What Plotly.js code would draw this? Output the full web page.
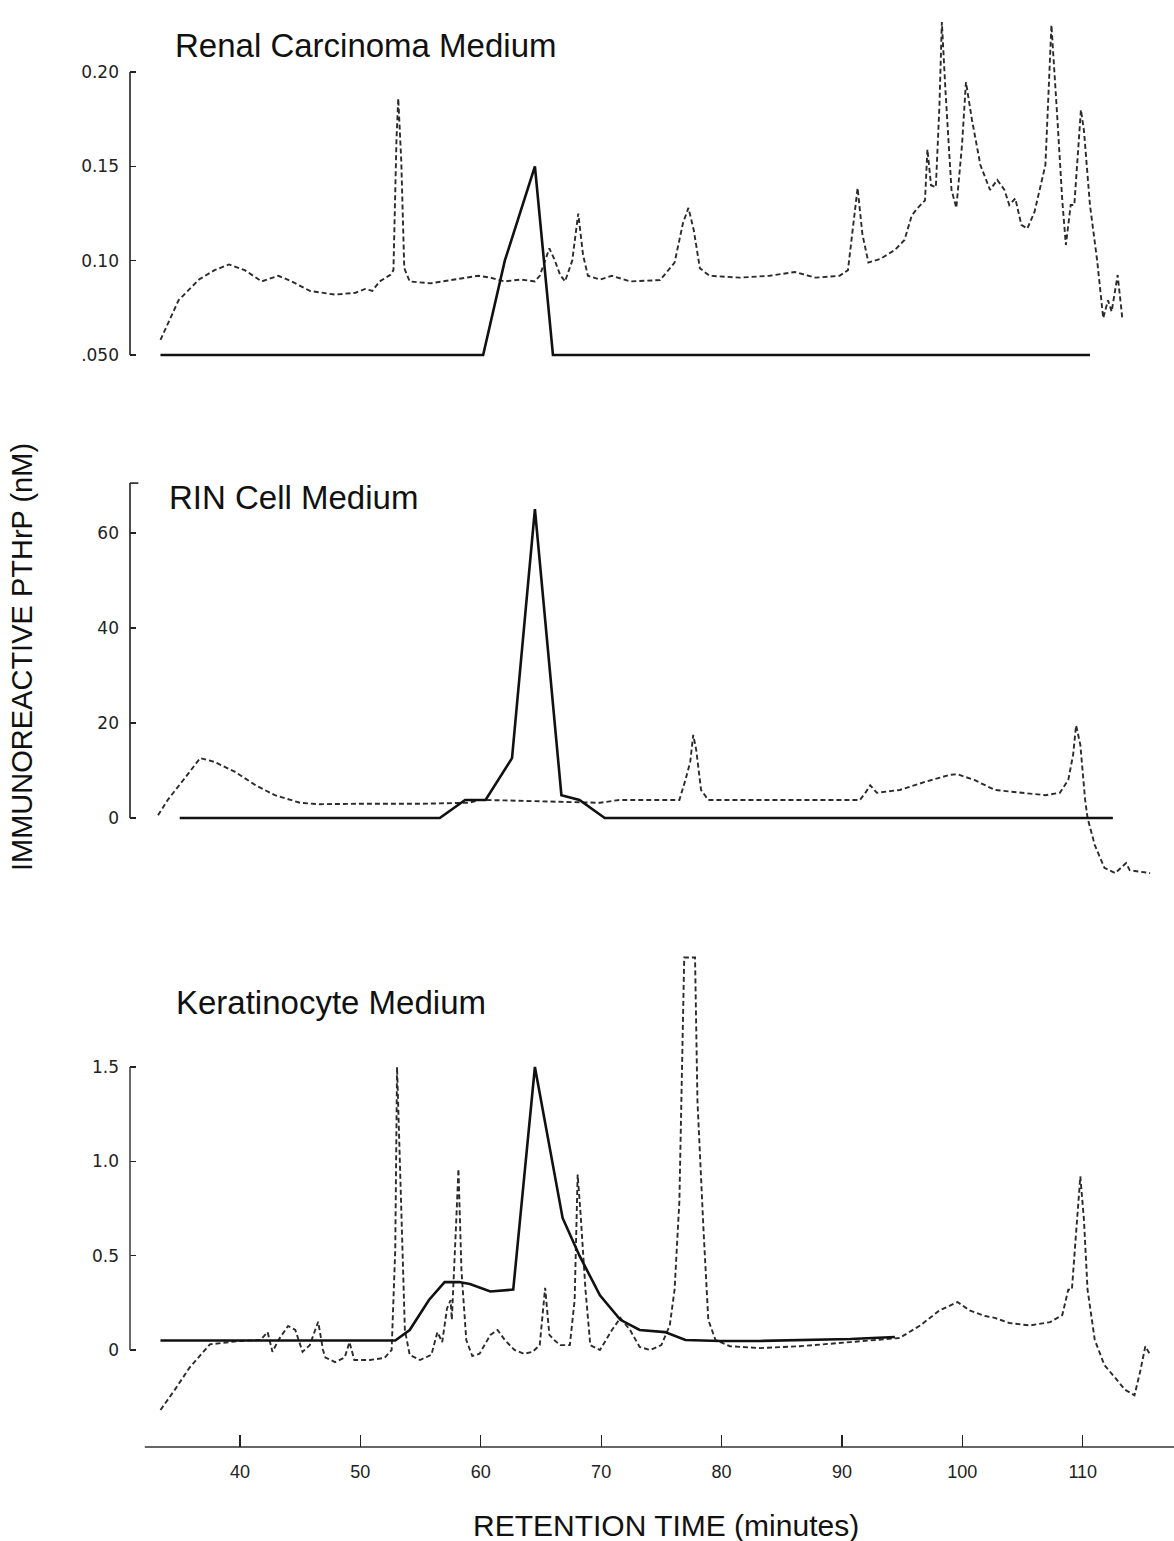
<!DOCTYPE html>
<html>
<head>
<meta charset="utf-8">
<script src="https://cdn.plot.ly/plotly-3.0.1.min.js"></script>
<style>html,body{margin:0;padding:0;background:#fff;}#chart{width:1174px;height:1541px;}</style>
</head>
<body>
<div id="chart"></div>
<script>
// ---- Renal Carcinoma Medium ----
const renalDashX = [33.4,34.9,36.6,37.9,39.1,40.4,41.8,43.2,44.3,45.8,
  47.9,49.6,50.4,51.0,51.6,52.5,52.75,53.0,53.15,53.4,
  53.65,54.1,55.8,57.4,58.7,59.8,60.8,62.0,63.3,64.5,
  64.9,65.3,65.7,66.1,66.6,67.0,67.6,68.1,68.5,68.9,
  69.9,70.9,72.4,74.9,76.1,76.8,77.25,77.7,78.2,79.0,
  81.5,84.0,86.1,87.8,89.8,90.5,90.9,91.3,91.7,92.2,
  93.2,94.4,95.2,95.8,96.3,96.9,97.1,97.4,97.8,98.1,
  98.3,98.6,99.1,99.5,99.97,100.3,100.8,101.5,102.3,102.9,
  103.5,103.9,104.4,104.9,105.4,106.0,106.9,107.4,107.9,108.3,
  108.6,109.0,109.3,109.85,110.1,110.6,111.2,111.7,112.1,112.4,
  112.9,113.3];
const renalDashY = [0.058,0.079,0.090,0.095,0.098,0.095,0.089,0.092,0.089,0.084,
  0.082,0.083,0.085,0.084,0.089,0.0925,0.095,0.164,0.186,0.153,
  0.096,0.089,0.088,0.0897,0.0908,0.092,0.091,0.089,0.090,0.089,
  0.092,0.099,0.1065,0.101,0.0924,0.089,0.100,0.125,0.103,0.092,
  0.090,0.092,0.089,0.0897,0.099,0.120,0.128,0.116,0.096,0.092,
  0.091,0.092,0.094,0.091,0.092,0.095,0.116,0.1385,0.114,0.099,
  0.101,0.1057,0.111,0.124,0.128,0.132,0.159,0.140,0.139,0.1825,
  0.2265,0.19,0.1375,0.128,0.161,0.1947,0.1746,0.1507,0.1375,0.1428,
  0.1375,0.1295,0.133,0.119,0.117,0.126,0.1507,0.2249,0.1746,0.132,
  0.1083,0.1295,0.1295,0.18,0.169,0.1295,0.100,0.0696,0.079,0.073,
  0.0924,0.0686];
const renalSolidX = [33.4,60.2,62.0,64.5,66.0,110.6];
const renalSolidY = [0.05,0.05,0.10,0.15,0.05,0.05];

// ---- RIN Cell Medium ----
const rinDashX = [33.2,34.0,35.3,36.4,36.7,37.9,39.6,41.3,42.9,45.0,
  46.6,50,55,59.0,59.9,62,65,67,69.9,71.5,
  76.5,77.0,77.4,77.65,77.9,78.3,78.9,82.4,91.5,92.0,
  92.35,92.9,94.8,96.9,99.0,99.6,101.0,102.7,104.8,106.9,
  108.1,108.8,109.2,109.45,109.8,110.2,110.4,111.0,111.8,112.7,
  113.3,113.6,113.9,115.6];
const rinDashY = [0.6,3.8,8,11.8,12.6,11.8,9.7,6.9,4.8,3.2,
  2.9,3,3,3.2,3.8,3.7,3.5,3.5,3.2,3.8,
  3.8,8,11.8,17.5,14.3,5.9,3.8,3.8,3.8,5.5,
  6.9,5.3,5.9,7.6,9.1,9.2,8,5.9,5.3,4.8,
  5.3,8,13.3,19.5,15.4,3.8,0,-5.7,-10.5,-11.6,
  -10.2,-9.5,-11,-11.6];
const rinSolidX = [35,56.6,58.7,60.4,62.6,64.5,66.7,68.2,70.3,112.5];
const rinSolidY = [0,0,3.8,3.8,12.6,65,4.8,3.8,0,0];

// ---- Keratinocyte Medium ----
const kerDashX = [33.4,34.6,35.8,37.1,37.5,40,41.7,42.3,42.7,43.2,
  44.0,44.6,45.2,45.8,46.5,46.9,47.1,47.9,48.7,49.1,
  49.5,50.8,52.0,52.6,52.9,53.05,53.4,53.7,54.1,54.96,
  55.9,56.4,56.8,57.2,57.5,57.6,57.95,58.15,58.4,58.8,
  59.3,59.9,60.8,61.4,62.0,62.8,63.6,64.3,64.9,65.35,
  65.7,66.1,66.6,67.4,67.8,68.05,68.3,68.7,69.1,69.9,
  70.9,71.6,72.4,73.2,74.1,75.0,75.7,76.1,76.5,76.9,
  77.8,78.0,78.5,78.9,79.5,80.7,83.2,86.5,90.7,93.2,
  94.8,96.5,98.1,99.6,100.6,101.9,102.7,103.9,105.6,107.3,
  108.3,108.8,109.1,109.4,109.8,110.1,110.4,111.0,111.8,112.7,
  113.5,114.3,114.8,115.2,115.6];
const kerDashY = [-0.318,-0.21,-0.095,0,0.03,0.048,0.053,0.095,-0.01,0.053,
  0.127,0.106,-0.01,0.026,0.15,0.0,-0.04,-0.064,-0.04,0.042,
  -0.053,-0.053,-0.042,0,0.53,1.5,0.79,0.106,-0.026,-0.053,
  -0.026,0.095,0.042,0.22,0.265,0.16,0.66,0.96,0.42,0.053,
  -0.032,-0.02,0.08,0.106,0.053,0,-0.02,-0.01,0.026,0.33,
  0.08,0.053,0.026,0.026,0.265,0.93,0.715,0.32,0.026,0,
  0.106,0.17,0.106,0.016,0,0.026,0.13,0.32,0.79,2.08,
  2.08,1.32,0.64,0.16,0.053,0.02,0.01,0.02,0.042,0.053,
  0.064,0.13,0.21,0.254,0.21,0.18,0.17,0.143,0.13,0.148,
  0.185,0.32,0.32,0.58,0.92,0.69,0.32,0.053,-0.08,-0.148,
  -0.21,-0.24,-0.106,0.02,-0.026];
const kerSolidX = [33.4,52.9,54.1,55.7,57.0,58.2,59.1,60.8,62.7,64.5,66.8,68.2,69.9,71.6,73.2,74.5,75.3,77.0,79.9,83.2,86.5,90.7,94.4];
const kerSolidY = [0.05,0.05,0.106,0.265,0.36,0.36,0.35,0.31,0.32,1.5,0.70,0.50,0.29,0.16,0.106,0.10,0.095,0.053,0.048,0.048,0.053,0.058,0.069];

// ---- axes text ----
const xTicks = [40,50,60,70,80,90,100,110];
const renalTicks = [0.05,0.10,0.15,0.20];
const renalTickText = ['.050','0.10','0.15','0.20'];
const rinTicks = [0,20,40,60];
const kerTicks = [0,0.5,1.0,1.5];
const kerTickText = ['0','0.5','1.0','1.5'];
const panelTitles = ['Renal Carcinoma Medium','RIN Cell Medium','Keratinocyte Medium'];
const yTitle = 'IMMUNOREACTIVE PTHrP (nM)';
const xTitle = 'RETENTION TIME (minutes)';

const FONT = 'Liberation Sans, Arial, Helvetica, sans-serif';
const TICKFONT = 'DejaVu Sans, Liberation Sans, sans-serif';
const dashLine = {color:'#2b2b2b', width:1.9, dash:'5px,3px'};
const solidLine = {color:'#111', width:2.6};

function tr(x, y, yax, line){
  return {x:x, y:y, xaxis:'x', yaxis:yax, type:'scatter', mode:'lines', line:line, hoverinfo:'skip', showlegend:false};
}
const data = [
  tr(renalDashX, renalDashY, 'y', dashLine),
  tr(renalSolidX, renalSolidY, 'y', solidLine),
  tr(rinDashX, rinDashY, 'y2', dashLine),
  tr(rinSolidX, rinSolidY, 'y2', solidLine),
  tr(kerDashX, kerDashY, 'y3', dashLine),
  tr(kerSolidX, kerSolidY, 'y3', solidLine)
];

const H = 1541;
function dom(topPx, botPx){ return [1 - botPx/H, 1 - topPx/H]; }
const yBase = {anchor:'x', showgrid:false, zeroline:false, showline:false, ticks:'inside', ticklen:6, tickwidth:1.2, tickcolor:'#222',
  tickfont:{family:TICKFONT, size:17, color:'#222'}, ticklabelstandoff:10, fixedrange:true};

const layout = {
  width:1174, height:1541,
  margin:{l:130, r:0, t:0, b:0},
  paper_bgcolor:'#ffffff', plot_bgcolor:'rgba(0,0,0,0)',
  showlegend:false,
  xaxis:{domain:[0,1], range:[30.87,117.58], anchor:'free', position:1-1447/H,
    showgrid:false, zeroline:false, showline:false, ticks:'inside', ticklen:12, tickwidth:1.2, tickcolor:'#222',
    tickvals:xTicks, tickfont:{family:'Liberation Sans, Arial, sans-serif', size:18, color:'#222'},
    ticklabelstandoff:12},
  yaxis:Object.assign({}, yBase, {domain:dom(6,393), range:[0.02986,0.2350], tickvals:renalTicks, ticktext:renalTickText}),
  yaxis2:Object.assign({}, yBase, {domain:dom(470,890), range:[-15.16,73.26], tickvals:rinTicks}),
  yaxis3:Object.assign({}, yBase, {domain:dom(940,1420), range:[-0.371,2.173], tickvals:kerTicks, ticktext:kerTickText}),
  shapes:[
    {type:'line', xref:'paper', yref:'y', x0:0, x1:0, y0:0.05, y1:0.20, line:{color:'#222', width:1.6}},
    {type:'line', xref:'paper', yref:'y2', x0:0, x1:0, y0:0, y1:70.5, line:{color:'#222', width:1.6}},
    {type:'line', xref:'paper', yref:'y2', x0:0, x1:0.008, y0:70.5, y1:70.5, line:{color:'#222', width:1.6}},
    {type:'line', xref:'paper', yref:'y3', x0:0, x1:0, y0:0, y1:1.5, line:{color:'#444', width:1.6}},
    {type:'line', xref:'x', yref:'paper', x0:32.1, x1:117.58, y0:1-1447/H, y1:1-1447/H, line:{color:'#333', width:1.4}}
  ],
  annotations:[
    {text:panelTitles[0], xref:'paper', yref:'paper', x:(173-130)/1044, y:1-45/H, xanchor:'left', yanchor:'middle', showarrow:false, font:{family:FONT, size:33, color:'#111'}},
    {text:panelTitles[1], xref:'paper', yref:'paper', x:(167-130)/1044, y:1-497/H, xanchor:'left', yanchor:'middle', showarrow:false, font:{family:FONT, size:33, color:'#111'}},
    {text:panelTitles[2], xref:'paper', yref:'paper', x:(174-130)/1044, y:1-1003/H, xanchor:'left', yanchor:'middle', showarrow:false, font:{family:FONT, size:33, color:'#111'}},
    {text:yTitle, xref:'paper', yref:'paper', x:(22-130)/1044, y:1-657/H, xanchor:'center', yanchor:'middle', textangle:-90, showarrow:false, font:{family:FONT, size:29, color:'#111'}},
    {text:xTitle, xref:'paper', yref:'paper', x:(666-130)/1044, y:1-1525/H, xanchor:'center', yanchor:'middle', showarrow:false, font:{family:FONT, size:30, color:'#111'}}
  ]
};

Plotly.newPlot('chart', data, layout, {staticPlot:true, displayModeBar:false});
</script>
</body>
</html>
